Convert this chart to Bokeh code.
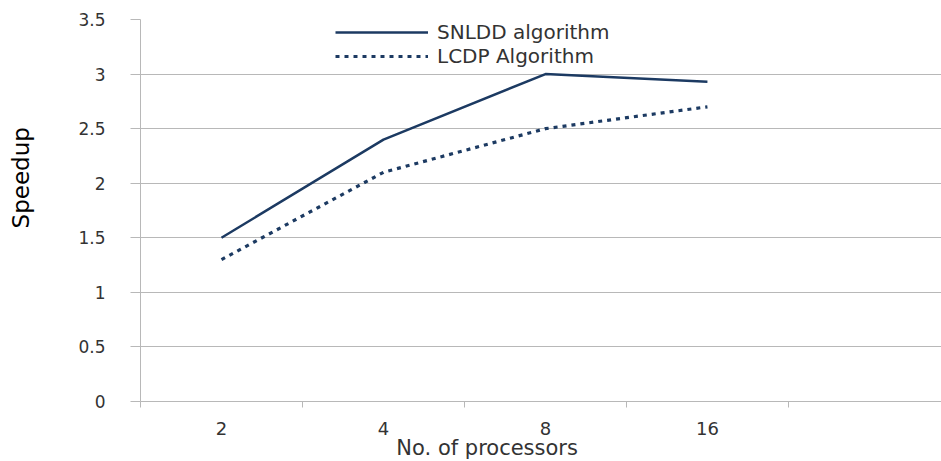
from math import pi

from bokeh.plotting import figure
from bokeh.models import (Range1d, FixedTicker, CustomJSTickFormatter, Legend,
                          LegendItem, Label)
from bokeh.embed import file_html
from bokeh.resources import INLINE

# Speedup measured for each processor count
processors = ["2", "4", "8", "16"]
snldd_speedup = [1.5, 2.4, 3.0, 2.93]
lcdp_speedup = [1.3, 2.1, 2.5, 2.7]
y_ticks = [0, 0.5, 1, 1.5, 2, 2.5, 3, 3.5]

# each processor count sits in the middle of its own slot
x_centres = [i + 0.5 for i in range(len(processors))]
slot_edges = list(range(len(processors) + 2))

NAVY = "#1c3a62"
GRID = "#b8b8b8"
TEXT = "#333333"
FONT = "DejaVu Sans"

p = figure(width=941, height=461, output_backend="svg", toolbar_location=None,
           x_range=Range1d(0, 4.945), y_range=Range1d(0, 3.5),
           min_border_left=140, min_border_right=0,
           min_border_top=19, min_border_bottom=59)
p.outline_line_color = None
p.background_fill_color = "white"

r_snldd = p.line(x_centres, snldd_speedup, line_color=NAVY, line_width=2.5)
r_lcdp = p.line(x_centres, lcdp_speedup, line_color=NAVY, line_width=3.2,
                line_dash="4 5")

# x axis: tick marks on slot boundaries, labels in slot centres
xa = p.xaxis[0]
xa.ticker = FixedTicker(ticks=x_centres, minor_ticks=slot_edges)
xa.major_label_overrides = {c: lab for c, lab in zip(x_centres, processors)}
xa.major_tick_line_color = None
xa.major_tick_out = 0
xa.major_tick_in = 0
xa.minor_tick_line_color = GRID
xa.minor_tick_out = 6
xa.minor_tick_in = 0
xa.axis_line_color = GRID
xa.major_label_standoff = 14
xa.major_label_text_font = FONT
xa.major_label_text_font_size = "18px"
xa.major_label_text_color = TEXT

ya = p.yaxis[0]
ya.ticker = FixedTicker(ticks=y_ticks)
ya.formatter = CustomJSTickFormatter(code="return tick.toString();")
ya.minor_tick_line_color = None
ya.major_tick_line_color = GRID
ya.major_tick_out = 10
ya.major_tick_in = 0
ya.axis_line_color = GRID
ya.major_label_standoff = 25
ya.major_label_text_font = FONT
ya.major_label_text_font_size = "17px"
ya.major_label_text_color = TEXT

p.xgrid.visible = False
p.ygrid.ticker = FixedTicker(ticks=y_ticks)
p.ygrid.grid_line_color = GRID
p.ygrid.grid_line_width = 1

# axis titles live in the side panels so they are not clipped to the frame
p.add_layout(Label(x=-0.735, y=2.05, text="Speedup", angle=pi / 2,
                   text_align="center", text_baseline="middle",
                   text_font=FONT, text_font_size="23px", text_color="black"),
             "left")
p.add_layout(Label(x=2.14, y=-0.43, text="No. of processors",
                   text_align="center", text_baseline="middle",
                   text_font=FONT, text_font_size="21px", text_color=TEXT),
             "below")

legend = Legend(items=[LegendItem(label="SNLDD algorithm", renderers=[r_snldd]),
                       LegendItem(label="LCDP Algorithm", renderers=[r_lcdp])],
                location=(195, 333), orientation="vertical",
                glyph_width=93, glyph_height=20, label_height=21,
                label_standoff=9, spacing=0, padding=0, margin=0,
                border_line_color=None, background_fill_alpha=0,
                label_text_font=FONT, label_text_font_size="20px",
                label_text_color=TEXT)
p.add_layout(legend, "center")

open("out.html", "w").write(file_html(p, INLINE))
